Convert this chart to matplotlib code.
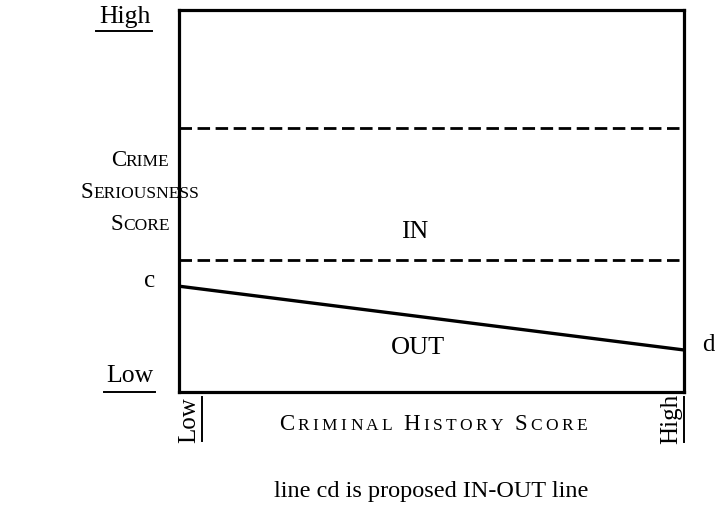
import matplotlib
matplotlib.use("Agg")
import matplotlib.pyplot as plt
from matplotlib.lines import Line2D
from matplotlib.offsetbox import TextArea, HPacker, AnnotationBbox

# ---- data ----
x_ends = [0.0, 1.0]              # Low .. High criminal history score
upper_cutoff = [0.69, 0.69]      # upper dashed boundary
lower_cutoff = [0.345, 0.345]    # lower dashed boundary
line_cd = [0.277, 0.11]          # proposed IN-OUT line (c -> d)

W, H = 715, 516
FONT = "Liberation Serif"

fig = plt.figure(figsize=(W / 100, H / 100), dpi=100)
L, R, T, B = 179, 684, 10, 392
ax = fig.add_axes([L / W, 1 - B / H, (R - L) / W, (B - T) / H])
ax.set_xlim(0, 1)
ax.set_ylim(0, 1)
ax.set_xticks([])
ax.set_yticks([])
for s in ax.spines.values():
    s.set_linewidth(2.3)
    s.set_color("black")

ax.plot(x_ends, upper_cutoff, color="black", lw=2.0, ls=(0, (4.5, 2)), clip_on=False)
ax.plot(x_ends, lower_cutoff, color="black", lw=2.0, ls=(0, (4.5, 2)), clip_on=False)
ax.plot(x_ends, line_cd, color="black", lw=2.4, solid_capstyle="butt", clip_on=False)


def fx(x):
    return x / W


def fy(y):
    return 1 - y / H


def txt(x, y, s, size, **kw):
    fig.text(fx(x), fy(y), s, fontsize=size, family=FONT, ha=kw.pop("ha", "center"),
             va=kw.pop("va", "center"), **kw)


def hline(x0, x1, y, lw=1.4):
    fig.add_artist(Line2D([fx(x0), fx(x1)], [fy(y), fy(y)], transform=fig.transFigure,
                          color="black", lw=lw))


def vline(x, y0, y1, lw=1.4):
    fig.add_artist(Line2D([fx(x), fx(x)], [fy(y0), fy(y1)], transform=fig.transFigure,
                          color="black", lw=lw))


def smallcaps(x, y, text, big, small, track=0.0):
    children = []
    words = text.split(" ")
    for i, w in enumerate(words):
        children.append(TextArea(w[0], textprops=dict(size=big, family=FONT)))
        rest = w[1:].upper()
        if track > 0:
            for ch in rest:
                children.append(TextArea(ch, textprops=dict(size=small, family=FONT)))
        elif rest:
            children.append(TextArea(rest, textprops=dict(size=small, family=FONT)))
        if i < len(words) - 1:
            children.append(TextArea(" ", textprops=dict(size=small, family=FONT)))
    box = HPacker(children=children, align="baseline", pad=0, sep=track)
    ab = AnnotationBbox(box, (fx(x), fy(y)), xycoords="figure fraction",
                        box_alignment=(0.5, 0.5), frameon=False, pad=0)
    fig.add_artist(ab)


# y-axis labels
txt(125, 17, "High", 18.5)
hline(96, 152, 31)
txt(130, 376, "Low", 18.5)
hline(104, 155, 392)
smallcaps(140, 160, "Crime", 16.5, 12.5)
smallcaps(140, 193, "Seriousness", 16.5, 12.5)
smallcaps(140, 225, "Score", 16.5, 12.5)

# point labels
txt(150, 281, "c", 18)
txt(708, 345, "d", 18)
txt(415, 232, "IN", 18.5)
txt(418, 348, "OUT", 19)

# x-axis labels
txt(189, 420, "Low", 18, rotation=90)
vline(202, 397, 441)
txt(671, 419, "High", 18, rotation=90)
vline(684, 397, 442)
smallcaps(433, 424, "Criminal History Score", 16.5, 12.5, track=2.4)

txt(431, 492, "line cd is proposed IN-OUT line", 17.5)

fig.savefig("out.png", dpi=100)
